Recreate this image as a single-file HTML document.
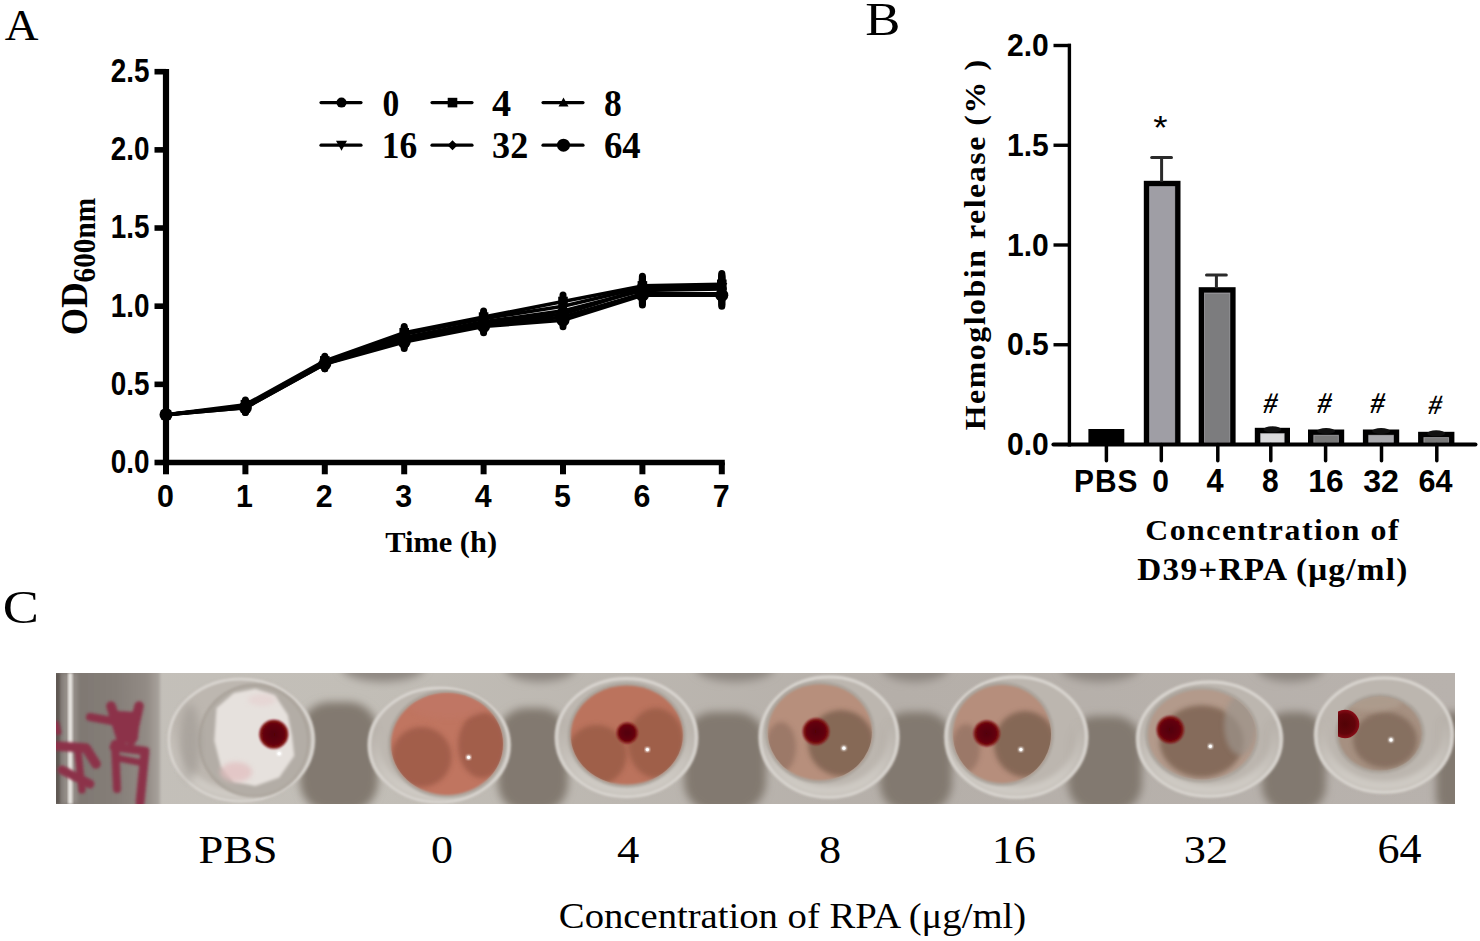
<!DOCTYPE html><html><head><meta charset="utf-8"><style>html,body{margin:0;padding:0;background:#fff;overflow:hidden}svg{display:block}</style></head><body>
<svg width="1480" height="941" viewBox="0 0 1480 941">
<rect width="1480" height="941" fill="#fff"/>
<line x1="166.0" y1="68.9" x2="166.0" y2="465.3" stroke="#000" stroke-width="6.2"/>
<line x1="163" y1="462.5" x2="724.8" y2="462.5" stroke="#000" stroke-width="5.6"/>
<line x1="154.5" y1="462.50" x2="166.0" y2="462.50" stroke="#000" stroke-width="5.6"/>
<line x1="154.5" y1="384.34" x2="166.0" y2="384.34" stroke="#000" stroke-width="5.6"/>
<line x1="154.5" y1="306.18" x2="166.0" y2="306.18" stroke="#000" stroke-width="5.6"/>
<line x1="154.5" y1="228.02" x2="166.0" y2="228.02" stroke="#000" stroke-width="5.6"/>
<line x1="154.5" y1="149.86" x2="166.0" y2="149.86" stroke="#000" stroke-width="5.6"/>
<line x1="154.5" y1="71.70" x2="166.0" y2="71.70" stroke="#000" stroke-width="5.6"/>
<line x1="166.00" y1="462.5" x2="166.00" y2="474.3" stroke="#000" stroke-width="6"/>
<line x1="245.40" y1="462.5" x2="245.40" y2="474.3" stroke="#000" stroke-width="6"/>
<line x1="324.80" y1="462.5" x2="324.80" y2="474.3" stroke="#000" stroke-width="6"/>
<line x1="404.20" y1="462.5" x2="404.20" y2="474.3" stroke="#000" stroke-width="6"/>
<line x1="483.60" y1="462.5" x2="483.60" y2="474.3" stroke="#000" stroke-width="6"/>
<line x1="563.00" y1="462.5" x2="563.00" y2="474.3" stroke="#000" stroke-width="6"/>
<line x1="642.40" y1="462.5" x2="642.40" y2="474.3" stroke="#000" stroke-width="6"/>
<line x1="721.80" y1="462.5" x2="721.80" y2="474.3" stroke="#000" stroke-width="6"/>
<polyline points="166.0,414.7 245.4,406.2 324.8,362.5 404.2,337.4 483.6,321.8 563.0,310.9 642.4,290.5 721.8,289.0" fill="none" stroke="#000" stroke-width="3.6" stroke-linejoin="round"/>
<polyline points="166.0,414.7 245.4,404.7 324.8,360.9 404.2,332.8 483.6,317.1 563.0,301.5 642.4,285.9 721.8,284.3" fill="none" stroke="#000" stroke-width="3.6" stroke-linejoin="round"/>
<polyline points="166.0,414.7 245.4,406.2 324.8,362.5 404.2,334.3 483.6,318.7 563.0,306.2 642.4,287.4 721.8,285.9" fill="none" stroke="#000" stroke-width="3.6" stroke-linejoin="round"/>
<polyline points="166.0,414.7 245.4,407.8 324.8,364.0 404.2,339.0 483.6,323.4 563.0,314.0 642.4,289.0 721.8,287.4" fill="none" stroke="#000" stroke-width="3.6" stroke-linejoin="round"/>
<polyline points="166.0,414.7 245.4,406.2 324.8,362.5 404.2,340.6 483.6,324.9 563.0,317.1 642.4,293.7 721.8,293.7" fill="none" stroke="#000" stroke-width="3.6" stroke-linejoin="round"/>
<polyline points="166.0,414.7 245.4,407.8 324.8,364.0 404.2,342.1 483.6,326.5 563.0,320.2 642.4,295.2 721.8,295.2" fill="none" stroke="#000" stroke-width="3.6" stroke-linejoin="round"/>
<line x1="166.0" y1="411.5" x2="166.0" y2="417.8" stroke="#000" stroke-width="7" stroke-linecap="round"/>
<circle cx="166.0" cy="414.7" r="5.0" fill="#000"/>
<line x1="245.4" y1="401.5" x2="245.4" y2="410.9" stroke="#000" stroke-width="7" stroke-linecap="round"/>
<circle cx="245.4" cy="406.2" r="5.0" fill="#000"/>
<line x1="324.8" y1="357.8" x2="324.8" y2="367.1" stroke="#000" stroke-width="7" stroke-linecap="round"/>
<circle cx="324.8" cy="362.5" r="5.0" fill="#000"/>
<line x1="404.2" y1="331.2" x2="404.2" y2="343.7" stroke="#000" stroke-width="7" stroke-linecap="round"/>
<circle cx="404.2" cy="337.4" r="5.0" fill="#000"/>
<line x1="483.6" y1="315.6" x2="483.6" y2="328.1" stroke="#000" stroke-width="7" stroke-linecap="round"/>
<circle cx="483.6" cy="321.8" r="5.0" fill="#000"/>
<line x1="563.0" y1="304.3" x2="563.0" y2="317.4" stroke="#000" stroke-width="7" stroke-linecap="round"/>
<circle cx="563.0" cy="310.9" r="5.0" fill="#000"/>
<line x1="642.4" y1="280.9" x2="642.4" y2="300.2" stroke="#000" stroke-width="7" stroke-linecap="round"/>
<circle cx="642.4" cy="290.5" r="5.0" fill="#000"/>
<line x1="721.8" y1="278.0" x2="721.8" y2="299.9" stroke="#000" stroke-width="7" stroke-linecap="round"/>
<circle cx="721.8" cy="289.0" r="5.0" fill="#000"/>
<line x1="166.0" y1="411.5" x2="166.0" y2="417.8" stroke="#000" stroke-width="7" stroke-linecap="round"/>
<rect x="161.2" y="409.9" width="9.6" height="9.6" fill="#000"/>
<line x1="245.4" y1="400.0" x2="245.4" y2="409.4" stroke="#000" stroke-width="7" stroke-linecap="round"/>
<rect x="240.6" y="399.9" width="9.6" height="9.6" fill="#000"/>
<line x1="324.8" y1="356.2" x2="324.8" y2="365.6" stroke="#000" stroke-width="7" stroke-linecap="round"/>
<rect x="320.0" y="356.1" width="9.6" height="9.6" fill="#000"/>
<line x1="404.2" y1="326.5" x2="404.2" y2="339.0" stroke="#000" stroke-width="7" stroke-linecap="round"/>
<rect x="399.4" y="328.0" width="9.6" height="9.6" fill="#000"/>
<line x1="483.6" y1="310.9" x2="483.6" y2="323.4" stroke="#000" stroke-width="7" stroke-linecap="round"/>
<rect x="478.8" y="312.3" width="9.6" height="9.6" fill="#000"/>
<line x1="563.0" y1="294.9" x2="563.0" y2="308.1" stroke="#000" stroke-width="7" stroke-linecap="round"/>
<rect x="558.2" y="296.7" width="9.6" height="9.6" fill="#000"/>
<line x1="642.4" y1="276.2" x2="642.4" y2="295.6" stroke="#000" stroke-width="7" stroke-linecap="round"/>
<rect x="637.6" y="281.1" width="9.6" height="9.6" fill="#000"/>
<line x1="721.8" y1="273.4" x2="721.8" y2="295.2" stroke="#000" stroke-width="7" stroke-linecap="round"/>
<rect x="717.0" y="279.5" width="9.6" height="9.6" fill="#000"/>
<line x1="166.0" y1="411.5" x2="166.0" y2="417.8" stroke="#000" stroke-width="7" stroke-linecap="round"/>
<path d="M166.0,409.7 L171.0,418.7 L161.0,418.7 Z" fill="#000"/>
<line x1="245.4" y1="401.5" x2="245.4" y2="410.9" stroke="#000" stroke-width="7" stroke-linecap="round"/>
<path d="M245.4,401.2 L250.4,410.2 L240.4,410.2 Z" fill="#000"/>
<line x1="324.8" y1="357.8" x2="324.8" y2="367.1" stroke="#000" stroke-width="7" stroke-linecap="round"/>
<path d="M324.8,357.5 L329.8,366.5 L319.8,366.5 Z" fill="#000"/>
<line x1="404.2" y1="328.1" x2="404.2" y2="340.6" stroke="#000" stroke-width="7" stroke-linecap="round"/>
<path d="M404.2,329.3 L409.2,338.3 L399.2,338.3 Z" fill="#000"/>
<line x1="483.6" y1="312.4" x2="483.6" y2="324.9" stroke="#000" stroke-width="7" stroke-linecap="round"/>
<path d="M483.6,313.7 L488.6,322.7 L478.6,322.7 Z" fill="#000"/>
<line x1="563.0" y1="299.6" x2="563.0" y2="312.7" stroke="#000" stroke-width="7" stroke-linecap="round"/>
<path d="M563.0,301.2 L568.0,310.2 L558.0,310.2 Z" fill="#000"/>
<line x1="642.4" y1="277.7" x2="642.4" y2="297.1" stroke="#000" stroke-width="7" stroke-linecap="round"/>
<path d="M642.4,282.4 L647.4,291.4 L637.4,291.4 Z" fill="#000"/>
<line x1="721.8" y1="274.9" x2="721.8" y2="296.8" stroke="#000" stroke-width="7" stroke-linecap="round"/>
<path d="M721.8,280.9 L726.8,289.9 L716.8,289.9 Z" fill="#000"/>
<line x1="166.0" y1="411.5" x2="166.0" y2="417.8" stroke="#000" stroke-width="7" stroke-linecap="round"/>
<path d="M160.5,410.3 L171.5,410.3 L166.0,420.2 Z" fill="#000"/>
<line x1="245.4" y1="403.1" x2="245.4" y2="412.5" stroke="#000" stroke-width="7" stroke-linecap="round"/>
<path d="M239.9,403.4 L250.9,403.4 L245.4,413.3 Z" fill="#000"/>
<line x1="324.8" y1="359.3" x2="324.8" y2="368.7" stroke="#000" stroke-width="7" stroke-linecap="round"/>
<path d="M319.3,359.6 L330.3,359.6 L324.8,369.5 Z" fill="#000"/>
<line x1="404.2" y1="332.8" x2="404.2" y2="345.3" stroke="#000" stroke-width="7" stroke-linecap="round"/>
<path d="M398.7,334.6 L409.7,334.6 L404.2,344.5 Z" fill="#000"/>
<line x1="483.6" y1="317.1" x2="483.6" y2="329.6" stroke="#000" stroke-width="7" stroke-linecap="round"/>
<path d="M478.1,319.0 L489.1,319.0 L483.6,328.9 Z" fill="#000"/>
<line x1="563.0" y1="307.4" x2="563.0" y2="320.6" stroke="#000" stroke-width="7" stroke-linecap="round"/>
<path d="M557.5,309.6 L568.5,309.6 L563.0,319.5 Z" fill="#000"/>
<line x1="642.4" y1="279.3" x2="642.4" y2="298.7" stroke="#000" stroke-width="7" stroke-linecap="round"/>
<path d="M636.9,284.6 L647.9,284.6 L642.4,294.5 Z" fill="#000"/>
<line x1="721.8" y1="276.5" x2="721.8" y2="298.4" stroke="#000" stroke-width="7" stroke-linecap="round"/>
<path d="M716.3,283.0 L727.3,283.0 L721.8,292.9 Z" fill="#000"/>
<line x1="166.0" y1="411.5" x2="166.0" y2="417.8" stroke="#000" stroke-width="7" stroke-linecap="round"/>
<path d="M166.0,409.7 L171.0,414.7 L166.0,419.7 L161.0,414.7 Z" fill="#000"/>
<line x1="245.4" y1="401.5" x2="245.4" y2="410.9" stroke="#000" stroke-width="7" stroke-linecap="round"/>
<path d="M245.4,401.2 L250.4,406.2 L245.4,411.2 L240.4,406.2 Z" fill="#000"/>
<line x1="324.8" y1="357.8" x2="324.8" y2="367.1" stroke="#000" stroke-width="7" stroke-linecap="round"/>
<path d="M324.8,357.5 L329.8,362.5 L324.8,367.5 L319.8,362.5 Z" fill="#000"/>
<line x1="404.2" y1="334.3" x2="404.2" y2="346.8" stroke="#000" stroke-width="7" stroke-linecap="round"/>
<path d="M404.2,335.6 L409.2,340.6 L404.2,345.6 L399.2,340.6 Z" fill="#000"/>
<line x1="483.6" y1="318.7" x2="483.6" y2="331.2" stroke="#000" stroke-width="7" stroke-linecap="round"/>
<path d="M483.6,319.9 L488.6,324.9 L483.6,329.9 L478.6,324.9 Z" fill="#000"/>
<line x1="563.0" y1="310.6" x2="563.0" y2="323.7" stroke="#000" stroke-width="7" stroke-linecap="round"/>
<path d="M563.0,312.1 L568.0,317.1 L563.0,322.1 L558.0,317.1 Z" fill="#000"/>
<line x1="642.4" y1="284.0" x2="642.4" y2="303.4" stroke="#000" stroke-width="7" stroke-linecap="round"/>
<path d="M642.4,288.7 L647.4,293.7 L642.4,298.7 L637.4,293.7 Z" fill="#000"/>
<line x1="721.8" y1="282.7" x2="721.8" y2="304.6" stroke="#000" stroke-width="7" stroke-linecap="round"/>
<path d="M721.8,288.7 L726.8,293.7 L721.8,298.7 L716.8,293.7 Z" fill="#000"/>
<line x1="166.0" y1="411.5" x2="166.0" y2="417.8" stroke="#000" stroke-width="7" stroke-linecap="round"/>
<circle cx="166.0" cy="414.7" r="6.5" fill="#000"/>
<line x1="245.4" y1="403.1" x2="245.4" y2="412.5" stroke="#000" stroke-width="7" stroke-linecap="round"/>
<circle cx="245.4" cy="407.8" r="6.5" fill="#000"/>
<line x1="324.8" y1="359.3" x2="324.8" y2="368.7" stroke="#000" stroke-width="7" stroke-linecap="round"/>
<circle cx="324.8" cy="364.0" r="6.5" fill="#000"/>
<line x1="404.2" y1="335.9" x2="404.2" y2="348.4" stroke="#000" stroke-width="7" stroke-linecap="round"/>
<circle cx="404.2" cy="342.1" r="6.5" fill="#000"/>
<line x1="483.6" y1="320.2" x2="483.6" y2="332.8" stroke="#000" stroke-width="7" stroke-linecap="round"/>
<circle cx="483.6" cy="326.5" r="6.5" fill="#000"/>
<line x1="563.0" y1="313.7" x2="563.0" y2="326.8" stroke="#000" stroke-width="7" stroke-linecap="round"/>
<circle cx="563.0" cy="320.2" r="6.5" fill="#000"/>
<line x1="642.4" y1="285.5" x2="642.4" y2="304.9" stroke="#000" stroke-width="7" stroke-linecap="round"/>
<circle cx="642.4" cy="295.2" r="6.5" fill="#000"/>
<line x1="721.8" y1="284.3" x2="721.8" y2="306.2" stroke="#000" stroke-width="7" stroke-linecap="round"/>
<circle cx="721.8" cy="295.2" r="6.5" fill="#000"/>
<line x1="321" y1="102.6" x2="361" y2="102.6" stroke="#000" stroke-width="3.2" stroke-linecap="round"/>
<circle cx="341.5" cy="102.6" r="5.0" fill="#000"/>
<line x1="432" y1="102.6" x2="472" y2="102.6" stroke="#000" stroke-width="3.2" stroke-linecap="round"/>
<rect x="447.7" y="97.8" width="9.6" height="9.6" fill="#000"/>
<line x1="543" y1="102.6" x2="583" y2="102.6" stroke="#000" stroke-width="3.2" stroke-linecap="round"/>
<path d="M563.5,97.6 L568.5,106.6 L558.5,106.6 Z" fill="#000"/>
<line x1="321" y1="145.2" x2="361" y2="145.2" stroke="#000" stroke-width="3.2" stroke-linecap="round"/>
<path d="M336.0,140.8 L347.0,140.8 L341.5,150.7 Z" fill="#000"/>
<line x1="432" y1="145.2" x2="472" y2="145.2" stroke="#000" stroke-width="3.2" stroke-linecap="round"/>
<path d="M452.5,140.2 L457.5,145.2 L452.5,150.2 L447.5,145.2 Z" fill="#000"/>
<line x1="543" y1="145.2" x2="583" y2="145.2" stroke="#000" stroke-width="3.2" stroke-linecap="round"/>
<circle cx="563.5" cy="145.2" r="6.5" fill="#000"/>
<line x1="1069.4" y1="43.8" x2="1069.4" y2="446.5" stroke="#000" stroke-width="3.4"/>
<line x1="1053.5" y1="344.75" x2="1071" y2="344.75" stroke="#000" stroke-width="3.4"/>
<line x1="1053.5" y1="245.00" x2="1071" y2="245.00" stroke="#000" stroke-width="3.4"/>
<line x1="1053.5" y1="145.25" x2="1071" y2="145.25" stroke="#000" stroke-width="3.4"/>
<line x1="1053.5" y1="45.50" x2="1071" y2="45.50" stroke="#000" stroke-width="3.4"/>
<rect x="1088.4" y="429.0" width="35.9" height="15.5" fill="#000"/>
<rect x="1143.8" y="180.8" width="36.7" height="263.7" fill="#000"/>
<rect x="1149.6" y="186.6" width="25.1" height="256.4" fill="#9f9ea5" stroke="#c4c3c8" stroke-opacity="0.6" stroke-width="1"/>
<rect x="1198.7" y="287.2" width="36.9" height="157.3" fill="#000"/>
<rect x="1204.5" y="293.0" width="25.3" height="150.0" fill="#7c7c7e" stroke="#c4c3c8" stroke-opacity="0.6" stroke-width="1"/>
<rect x="1254.8" y="427.8" width="35.2" height="16.7" fill="#000"/>
<rect x="1260.6" y="433.6" width="23.6" height="9.4" fill="#d9d9db" stroke="#c4c3c8" stroke-opacity="0.6" stroke-width="1"/>
<rect x="1308.0" y="429.5" width="36.2" height="15.0" fill="#000"/>
<rect x="1313.8" y="435.3" width="24.6" height="7.7" fill="#787878" stroke="#c4c3c8" stroke-opacity="0.6" stroke-width="1"/>
<rect x="1362.9" y="429.5" width="36.3" height="15.0" fill="#000"/>
<rect x="1368.7" y="435.3" width="24.7" height="7.7" fill="#a9a9ad" stroke="#c4c3c8" stroke-opacity="0.6" stroke-width="1"/>
<rect x="1418.1" y="431.8" width="36.3" height="12.7" fill="#000"/>
<rect x="1423.9" y="437.6" width="24.7" height="5.4" fill="#787878" stroke="#c4c3c8" stroke-opacity="0.6" stroke-width="1"/>
<line x1="1106.4" y1="444.5" x2="1106.4" y2="460.8" stroke="#000" stroke-width="3.5" stroke-linecap="round"/>
<line x1="1161.3" y1="444.5" x2="1161.3" y2="460.8" stroke="#000" stroke-width="3.5" stroke-linecap="round"/>
<line x1="1217.8" y1="444.5" x2="1217.8" y2="460.8" stroke="#000" stroke-width="3.5" stroke-linecap="round"/>
<line x1="1270.8" y1="444.5" x2="1270.8" y2="460.8" stroke="#000" stroke-width="3.5" stroke-linecap="round"/>
<line x1="1325.6" y1="444.5" x2="1325.6" y2="460.8" stroke="#000" stroke-width="3.5" stroke-linecap="round"/>
<line x1="1381.5" y1="444.5" x2="1381.5" y2="460.8" stroke="#000" stroke-width="3.5" stroke-linecap="round"/>
<line x1="1436.8" y1="444.5" x2="1436.8" y2="460.8" stroke="#000" stroke-width="3.5" stroke-linecap="round"/>
<line x1="1053.5" y1="444.5" x2="1475.4" y2="444.5" stroke="#000" stroke-width="4.2" stroke-linecap="round"/>
<ellipse cx="1272.4" cy="429.3" rx="9" ry="3" fill="#111"/>
<ellipse cx="1326.1" cy="431.0" rx="9" ry="3" fill="#111"/>
<ellipse cx="1381.1" cy="431.0" rx="9" ry="3" fill="#111"/>
<ellipse cx="1436.2" cy="433.3" rx="9" ry="3" fill="#111"/>
<line x1="1161.6" y1="157.4" x2="1161.6" y2="181.8" stroke="#2a2a2a" stroke-width="3"/>
<line x1="1151.6999999999998" y1="157.4" x2="1171.5" y2="157.4" stroke="#2a2a2a" stroke-width="3" stroke-linecap="round"/>
<line x1="1216.4" y1="274.9" x2="1216.4" y2="288.2" stroke="#2a2a2a" stroke-width="3"/>
<line x1="1206.5" y1="274.9" x2="1226.3000000000002" y2="274.9" stroke="#2a2a2a" stroke-width="3" stroke-linecap="round"/>
<defs>
<clipPath id="strip"><rect x="56" y="673" width="1399" height="131"/></clipPath>
<filter id="b1" x="-20%" y="-20%" width="140%" height="140%"><feGaussianBlur stdDeviation="1"/></filter>
<filter id="b15" x="-20%" y="-20%" width="140%" height="140%"><feGaussianBlur stdDeviation="1.6"/></filter>
<filter id="b2" x="-30%" y="-30%" width="160%" height="160%"><feGaussianBlur stdDeviation="2.5"/></filter>
<filter id="b4" x="-30%" y="-30%" width="160%" height="160%"><feGaussianBlur stdDeviation="4"/></filter>
<filter id="b7" x="-40%" y="-40%" width="180%" height="180%"><feGaussianBlur stdDeviation="7"/></filter>
<linearGradient id="leftg" x1="0" x2="1" y1="0" y2="0">
<stop offset="0" stop-color="#7a736d"/><stop offset="0.6" stop-color="#857e78"/><stop offset="0.88" stop-color="#928b85"/><stop offset="1" stop-color="#aaa49e"/></linearGradient>
<linearGradient id="plateg" x1="0" x2="1" y1="0" y2="0">
<stop offset="0" stop-color="#c4c0ba"/><stop offset="0.22" stop-color="#c2beb7"/><stop offset="0.6" stop-color="#b5afa9"/><stop offset="1" stop-color="#b8b2ad"/></linearGradient>
<linearGradient id="ringg" x1="0" y1="0" x2="0" y2="1"><stop offset="0.35" stop-color="#d4d0ca" stop-opacity="0"/><stop offset="0.9" stop-color="#d4d0ca" stop-opacity="0.75"/></linearGradient>
<radialGradient id="dotg"><stop offset="0" stop-color="#520306"/><stop offset="0.7" stop-color="#62040a"/><stop offset="1" stop-color="#8a0c16"/></radialGradient>
</defs>
<g clip-path="url(#strip)">
<rect x="56" y="673" width="1399" height="131" fill="url(#plateg)"/>
<ellipse cx="383" cy="667" rx="42" ry="15" fill="#8f8882" filter="url(#b4)"/>
<ellipse cx="540" cy="667" rx="36" ry="15" fill="#8f8882" filter="url(#b4)"/>
<ellipse cx="735" cy="667" rx="40" ry="15" fill="#8f8882" filter="url(#b4)"/>
<ellipse cx="915" cy="667" rx="34" ry="15" fill="#8f8882" filter="url(#b4)"/>
<ellipse cx="1100" cy="667" rx="40" ry="15" fill="#8f8882" filter="url(#b4)"/>
<ellipse cx="1290" cy="667" rx="34" ry="15" fill="#8f8882" filter="url(#b4)"/>
<rect x="300" y="702" width="78" height="110" rx="30" fill="#82796f" filter="url(#b4)"/>
<rect x="498" y="708" width="70" height="104" rx="28" fill="#82796f" filter="url(#b4)"/>
<rect x="684" y="712" width="82" height="100" rx="30" fill="#82796f" filter="url(#b4)"/>
<rect x="880" y="712" width="72" height="100" rx="28" fill="#82796f" filter="url(#b4)"/>
<rect x="1068" y="716" width="74" height="96" rx="28" fill="#82796f" filter="url(#b4)"/>
<rect x="1262" y="712" width="64" height="100" rx="26" fill="#82796f" filter="url(#b4)"/>
<rect x="1436" y="712" width="34" height="100" rx="14" fill="#82796f" filter="url(#b4)"/>
<rect x="50" y="668" width="110" height="145" fill="url(#leftg)" filter="url(#b15)"/>
<rect x="50" y="673" width="10" height="131" fill="#5e5853" filter="url(#b1)"/>
<rect x="63" y="673" width="14" height="131" fill="#a8a29d" opacity="0.6" filter="url(#b2)"/>
<rect x="68" y="673" width="4.5" height="131" fill="#e6e3df" filter="url(#b1)"/>
<g fill="none" stroke="#8c3048" stroke-linecap="round" stroke-linejoin="round" filter="url(#b15)"><path d="M90,717 L112,721" stroke-width="8.0"/><path d="M111,706 L122,741" stroke-width="9.6"/><path d="M139,706 L131,741" stroke-width="9.6"/><path d="M118,715 L136,716 L134,738 L120,738 Z" stroke-width="8" fill="#8c3048"/><path d="M115,744 L117,789" stroke-width="8.0"/><path d="M114,747 L145,751 L140,803" stroke-width="8.8"/><path d="M117,758 L143,763" stroke-width="6.4"/><path d="M56,724 L58,732" stroke-width="6.4"/><path d="M56,746 L86,748 L96,764" stroke-width="9.6"/><path d="M62,770 L90,784" stroke-width="8.8"/><path d="M78,752 L82,790" stroke-width="7.2"/></g>
<ellipse cx="240.9" cy="740" rx="74" ry="63" fill="#bdb7b0" opacity="0.92" filter="url(#b15)"/>
<ellipse cx="240.9" cy="740" rx="72" ry="61" fill="none" stroke="#d9d5d0" stroke-width="3" filter="url(#b1)"/>
<ellipse cx="240.9" cy="740" rx="66" ry="55" fill="none" stroke="url(#ringg)" stroke-width="10" filter="url(#b2)"/>
<ellipse cx="254" cy="740.6" rx="56" ry="57" fill="#a8a199" opacity="0.8" filter="url(#b1)"/>
<ellipse cx="254" cy="740.6" rx="53" ry="54" fill="#b3ada6" filter="url(#b1)"/>
<clipPath id="lc0"><ellipse cx="254" cy="740.6" rx="53" ry="54"/></clipPath>
<g clip-path="url(#lc0)">
</g>
<polygon points="216.5,708 233.8,693 255.4,688.8 274.9,695.3 287.8,714.7 292,736 294.3,755.8 279.2,777.4 255.4,786 233.8,781.8 220.8,766.6 214.3,740.7" fill="#e6e1dd" filter="url(#b15)"/>
<ellipse cx="236" cy="772" rx="16" ry="10" fill="#e2bfc0" opacity="0.75" filter="url(#b2)"/>
<ellipse cx="262" cy="700" rx="14" ry="6" fill="#e6cfcf" opacity="0.6" filter="url(#b2)"/>
<ellipse cx="190" cy="742" rx="10" ry="38" fill="#9e9892" opacity="0.6" filter="url(#b4)"/>
<circle cx="273.8" cy="734.2" r="14.5" fill="url(#dotg)" filter="url(#b1)"/>
<circle cx="279.2" cy="753.6" r="2.4" fill="#ffffff" filter="url(#b1)"/>
<circle cx="279.2" cy="753.6" r="1.6" fill="#ffffff"/>
<ellipse cx="439.2" cy="745" rx="71.5" ry="59" fill="#bdb7b0" opacity="0.92" filter="url(#b15)"/>
<ellipse cx="439.2" cy="745" rx="69.5" ry="57" fill="none" stroke="#d9d5d0" stroke-width="3" filter="url(#b1)"/>
<ellipse cx="439.2" cy="745" rx="63.5" ry="51" fill="none" stroke="url(#ringg)" stroke-width="10" filter="url(#b2)"/>
<ellipse cx="447" cy="744" rx="59" ry="54" fill="#a8a199" opacity="0.8" filter="url(#b1)"/>
<ellipse cx="447" cy="744" rx="56" ry="51" fill="#c07560" filter="url(#b1)"/>
<clipPath id="lc1"><ellipse cx="447" cy="744" rx="56" ry="51"/></clipPath>
<g clip-path="url(#lc1)">
<ellipse cx="421.5" cy="757" rx="30" ry="30" fill="#8e503d" opacity="0.6" filter="url(#b2)"/>
<ellipse cx="482" cy="745" rx="24" ry="33" fill="#8e503d" opacity="0.6" filter="url(#b2)"/>
<ellipse cx="449" cy="705" rx="40" ry="14" fill="#c07868" opacity="0.5" filter="url(#b2)"/>
</g>
<circle cx="468.6" cy="757.3" r="2.4" fill="#ffffff" filter="url(#b1)"/>
<circle cx="468.6" cy="757.3" r="1.6" fill="#ffffff"/>
<ellipse cx="626.5" cy="737.4" rx="71.7" ry="61" fill="#bdb7b0" opacity="0.92" filter="url(#b15)"/>
<ellipse cx="626.5" cy="737.4" rx="69.7" ry="59" fill="none" stroke="#d9d5d0" stroke-width="3" filter="url(#b1)"/>
<ellipse cx="626.5" cy="737.4" rx="63.7" ry="53" fill="none" stroke="url(#ringg)" stroke-width="10" filter="url(#b2)"/>
<ellipse cx="626.8" cy="735" rx="59" ry="52.5" fill="#a8a199" opacity="0.8" filter="url(#b1)"/>
<ellipse cx="626.8" cy="735" rx="56" ry="49.5" fill="#bb735d" filter="url(#b1)"/>
<clipPath id="lc2"><ellipse cx="626.8" cy="735" rx="56" ry="49.5"/></clipPath>
<g clip-path="url(#lc2)">
<ellipse cx="596.5" cy="755" rx="30" ry="30" fill="#8c523e" opacity="0.6" filter="url(#b2)"/>
<ellipse cx="656" cy="743" rx="28" ry="35" fill="#8c523e" opacity="0.6" filter="url(#b2)"/>
</g>
<circle cx="627.2" cy="732.9" r="10.5" fill="url(#dotg)" filter="url(#b1)"/>
<circle cx="647.4" cy="749.6" r="2.4" fill="#ffffff" filter="url(#b1)"/>
<circle cx="647.4" cy="749.6" r="1.6" fill="#ffffff"/>
<ellipse cx="829" cy="737" rx="70.4" ry="62" fill="#bdb7b0" opacity="0.92" filter="url(#b15)"/>
<ellipse cx="829" cy="737" rx="68.4" ry="60" fill="none" stroke="#d9d5d0" stroke-width="3" filter="url(#b1)"/>
<ellipse cx="829" cy="737" rx="62.400000000000006" ry="54" fill="none" stroke="url(#ringg)" stroke-width="10" filter="url(#b2)"/>
<ellipse cx="819.9" cy="732.2" rx="55" ry="51" fill="#a8a199" opacity="0.8" filter="url(#b1)"/>
<ellipse cx="819.9" cy="732.2" rx="52" ry="48" fill="#b78f7c" filter="url(#b1)"/>
<clipPath id="lc3"><ellipse cx="819.9" cy="732.2" rx="52" ry="48"/></clipPath>
<g clip-path="url(#lc3)">
<ellipse cx="841" cy="743" rx="33" ry="33" fill="#7a5e4d" opacity="0.8" filter="url(#b2)"/>
<ellipse cx="781" cy="747" rx="15" ry="25" fill="#917060" opacity="0.7" filter="url(#b2)"/>
</g>
<circle cx="816" cy="731.5" r="13.2" fill="url(#dotg)" filter="url(#b1)"/>
<circle cx="843.9" cy="748.2" r="2.4" fill="#ffffff" filter="url(#b1)"/>
<circle cx="843.9" cy="748.2" r="1.6" fill="#ffffff"/>
<ellipse cx="1016.3" cy="737" rx="72" ry="62" fill="#bdb7b0" opacity="0.92" filter="url(#b15)"/>
<ellipse cx="1016.3" cy="737" rx="70" ry="60" fill="none" stroke="#d9d5d0" stroke-width="3" filter="url(#b1)"/>
<ellipse cx="1016.3" cy="737" rx="64" ry="54" fill="none" stroke="url(#ringg)" stroke-width="10" filter="url(#b2)"/>
<ellipse cx="1002" cy="734" rx="52" ry="52" fill="#a8a199" opacity="0.8" filter="url(#b1)"/>
<ellipse cx="1002" cy="734" rx="49" ry="49" fill="#b68e7b" filter="url(#b1)"/>
<clipPath id="lc4"><ellipse cx="1002" cy="734" rx="49" ry="49"/></clipPath>
<g clip-path="url(#lc4)">
<ellipse cx="1025" cy="744" rx="31" ry="33" fill="#7a5e4d" opacity="0.8" filter="url(#b2)"/>
<ellipse cx="966" cy="748" rx="14" ry="24" fill="#917060" opacity="0.7" filter="url(#b2)"/>
</g>
<circle cx="986.7" cy="733.4" r="13" fill="url(#dotg)" filter="url(#b1)"/>
<circle cx="1020.9" cy="749.6" r="2.4" fill="#ffffff" filter="url(#b1)"/>
<circle cx="1020.9" cy="749.6" r="1.6" fill="#ffffff"/>
<ellipse cx="1209.5" cy="739" rx="73.5" ry="59" fill="#bdb7b0" opacity="0.92" filter="url(#b15)"/>
<ellipse cx="1209.5" cy="739" rx="71.5" ry="57" fill="none" stroke="#d9d5d0" stroke-width="3" filter="url(#b1)"/>
<ellipse cx="1209.5" cy="739" rx="65.5" ry="51" fill="none" stroke="url(#ringg)" stroke-width="10" filter="url(#b2)"/>
<ellipse cx="1202" cy="734.5" rx="57" ry="48" fill="#a8a199" opacity="0.8" filter="url(#b1)"/>
<ellipse cx="1202" cy="734.5" rx="54" ry="45" fill="#b39a8b" filter="url(#b1)"/>
<clipPath id="lc5"><ellipse cx="1202" cy="734.5" rx="54" ry="45"/></clipPath>
<g clip-path="url(#lc5)">
<ellipse cx="1201.6" cy="741.3" rx="42" ry="36" fill="#7a6150" opacity="0.8" filter="url(#b2)"/>
<ellipse cx="1240" cy="725" rx="16" ry="30" fill="#9d948c" opacity="0.7" filter="url(#b2)"/>
</g>
<circle cx="1170.3" cy="729.7" r="13.6" fill="url(#dotg)" filter="url(#b1)"/>
<circle cx="1210.4" cy="746.3" r="2.4" fill="#ffffff" filter="url(#b1)"/>
<circle cx="1210.4" cy="746.3" r="1.6" fill="#ffffff"/>
<ellipse cx="1384" cy="735" rx="70" ry="59" fill="#bdb7b0" opacity="0.92" filter="url(#b15)"/>
<ellipse cx="1384" cy="735" rx="68" ry="57" fill="none" stroke="#d9d5d0" stroke-width="3" filter="url(#b1)"/>
<ellipse cx="1384" cy="735" rx="62" ry="51" fill="none" stroke="url(#ringg)" stroke-width="10" filter="url(#b2)"/>
<ellipse cx="1380" cy="733.6" rx="45" ry="40" fill="#a8a199" opacity="0.8" filter="url(#b1)"/>
<ellipse cx="1380" cy="733.6" rx="42" ry="37" fill="#a69081" filter="url(#b1)"/>
<clipPath id="lc6"><ellipse cx="1380" cy="733.6" rx="42" ry="37"/></clipPath>
<g clip-path="url(#lc6)">
<ellipse cx="1385" cy="740" rx="32" ry="28" fill="#7f6858" opacity="0.8" filter="url(#b2)"/>
<ellipse cx="1372" cy="702" rx="30" ry="9" fill="#b0a092" opacity="0.7" filter="url(#b2)"/>
</g>
<clipPath id="dc6"><rect x="1338" y="690" width="60" height="60"/></clipPath>
<circle cx="1345" cy="724" r="14.3" fill="url(#dotg)" clip-path="url(#dc6)"/>
<circle cx="1391" cy="739.9" r="2.4" fill="#ffffff" filter="url(#b1)"/>
<circle cx="1391" cy="739.9" r="1.6" fill="#ffffff"/>
</g>
<g transform="translate(4.80,10.50) scale(1.0152,0.9677) translate(0,31)"><text x="0" y="0" font-family='"Liberation Serif", serif' font-size="46" >A</text></g>
<g transform="translate(866.30,3.50) scale(1.1444,1.0097) translate(-1,31)"><text x="0" y="0" font-family='"Liberation Serif", serif' font-size="46" >B</text></g>
<g transform="translate(5.10,592.60) scale(1.1769,0.9871) translate(-2,31)"><text x="0" y="0" font-family='"Liberation Serif", serif' font-size="46" >C</text></g>
<g transform="translate(386.20,531.80) scale(0.9821,0.9393) translate(-1,22)"><text x="0" y="0" font-family='"Liberation Serif", serif' font-size="31" font-weight="bold" >Time (h)</text></g>
<g transform="translate(62.40,198.50) scale(1.0290,0.9761) translate(24,140)"><text x="0" y="0" transform="rotate(-90)" font-family='"Liberation Serif", serif' font-size="36" font-weight="bold">OD<tspan font-size="30" dy="7.3">600nm</tspan></text></g>
<g transform="translate(383.50,90.90) scale(0.9312,1.0292) translate(-1,24)"><text x="0" y="0" font-family='"Liberation Serif", serif' font-size="36" font-weight="bold" >0</text></g>
<g transform="translate(493.10,90.90) scale(1.0625,1.0417) translate(-1,24)"><text x="0" y="0" font-family='"Liberation Serif", serif' font-size="36" font-weight="bold" >4</text></g>
<g transform="translate(605.00,90.90) scale(0.9875,1.0417) translate(-1,24)"><text x="0" y="0" font-family='"Liberation Serif", serif' font-size="36" font-weight="bold" >8</text></g>
<g transform="translate(384.70,133.40) scale(0.9844,1.0292) translate(-3,24)"><text x="0" y="0" font-family='"Liberation Serif", serif' font-size="36" font-weight="bold" >16</text></g>
<g transform="translate(493.10,133.40) scale(1.0029,1.0292) translate(-1,24)"><text x="0" y="0" font-family='"Liberation Serif", serif' font-size="36" font-weight="bold" >32</text></g>
<g transform="translate(605.00,133.40) scale(1.0206,1.0292) translate(-1,24)"><text x="0" y="0" font-family='"Liberation Serif", serif' font-size="36" font-weight="bold" >64</text></g>
<g transform="translate(1154.40,116.50) scale(1.2300,1.1100) translate(-1,20)"><text x="0" y="0" font-family='"Liberation Sans", sans-serif' font-size="30" >*</text></g>
<g transform="translate(1263.90,393.80) scale(0.9857,1.0611) translate(-2,18)"><text x="0" y="0" font-family='"Liberation Serif", serif' font-size="28" font-weight="bold" transform="skewX(-12)">#</text></g>
<g transform="translate(1318.00,393.80) scale(0.9857,1.0778) translate(-2,18)"><text x="0" y="0" font-family='"Liberation Serif", serif' font-size="28" font-weight="bold" transform="skewX(-12)">#</text></g>
<g transform="translate(1371.00,393.80) scale(1.0000,1.0778) translate(-2,18)"><text x="0" y="0" font-family='"Liberation Serif", serif' font-size="28" font-weight="bold" transform="skewX(-12)">#</text></g>
<g transform="translate(1429.00,396.60) scale(0.9500,0.9944) translate(-2,18)"><text x="0" y="0" font-family='"Liberation Serif", serif' font-size="28" font-weight="bold" transform="skewX(-12)">#</text></g>
<g transform="translate(963.30,61.30) scale(0.9724,1.0279) translate(22,359)"><text x="0" y="0" transform="rotate(-90)" font-family='"Liberation Serif", serif' font-size="31" font-weight="bold" letter-spacing="1.5">Hemoglobin release (% )</text></g>
<g transform="translate(1147.20,519.60) scale(1.0252,0.9455) translate(-2,22)"><text x="0" y="0" font-family='"Liberation Serif", serif' font-size="31" font-weight="bold" letter-spacing="1.5">Concentration of</text></g>
<g transform="translate(1138.40,557.40) scale(1.0397,1.0138) translate(-1,22)"><text x="0" y="0" font-family='"Liberation Serif", serif' font-size="32" font-weight="bold" letter-spacing="1.2">D39+RPA (μg/ml)</text></g>
<g transform="translate(199.50,836.20) scale(1.0592,0.9500) translate(-1,28)"><text x="0" y="0" font-family='"Liberation Serif", serif' font-size="42" >PBS</text></g>
<g transform="translate(433.00,835.60) scale(1.0471,0.9714) translate(-2,28)"><text x="0" y="0" font-family='"Liberation Serif", serif' font-size="42" >0</text></g>
<g transform="translate(618.10,835.40) scale(1.0632,0.9750) translate(-1,28)"><text x="0" y="0" font-family='"Liberation Serif", serif' font-size="42" >4</text></g>
<g transform="translate(821.00,835.50) scale(1.0529,0.9750) translate(-2,28)"><text x="0" y="0" font-family='"Liberation Serif", serif' font-size="42" >8</text></g>
<g transform="translate(996.30,835.50) scale(1.0459,0.9750) translate(-4,28)"><text x="0" y="0" font-family='"Liberation Serif", serif' font-size="42" >16</text></g>
<g transform="translate(1185.90,835.50) scale(1.0553,0.9750) translate(-2,28)"><text x="0" y="0" font-family='"Liberation Serif", serif' font-size="42" >32</text></g>
<g transform="translate(1379.60,835.10) scale(1.0487,0.9964) translate(-2,28)"><text x="0" y="0" font-family='"Liberation Serif", serif' font-size="42" >64</text></g>
<g transform="translate(1076.00,469.50) scale(0.9651,1.0182) translate(-2,22)"><text x="0" y="0" font-family='"Liberation Sans", sans-serif' font-size="31" font-weight="bold" letter-spacing="1">PBS</text></g>
<g transform="translate(1153.30,469.50) scale(0.9667,1.0182) translate(-1,22)"><text x="0" y="0" font-family='"Liberation Sans", sans-serif' font-size="31" font-weight="bold" >0</text></g>
<g transform="translate(1206.50,468.80) scale(0.9941,1.0455) translate(0,22)"><text x="0" y="0" font-family='"Liberation Sans", sans-serif' font-size="31" font-weight="bold" >4</text></g>
<g transform="translate(1262.90,468.80) scale(0.9667,1.0545) translate(-1,22)"><text x="0" y="0" font-family='"Liberation Sans", sans-serif' font-size="31" font-weight="bold" >8</text></g>
<g transform="translate(1310.40,469.10) scale(1.0226,1.0364) translate(-2,22)"><text x="0" y="0" font-family='"Liberation Sans", sans-serif' font-size="31" font-weight="bold" >16</text></g>
<g transform="translate(1364.20,469.10) scale(1.0375,1.0364) translate(-1,22)"><text x="0" y="0" font-family='"Liberation Sans", sans-serif' font-size="31" font-weight="bold" >32</text></g>
<g transform="translate(1419.50,469.10) scale(0.9848,1.0364) translate(-1,22)"><text x="0" y="0" font-family='"Liberation Sans", sans-serif' font-size="31" font-weight="bold" >64</text></g>
<g transform="translate(561.00,903.20) scale(1.0747,0.9848) translate(-2,25)"><text x="0" y="0" font-family='"Liberation Serif", serif' font-size="36" >Concentration of RPA (μg/ml)</text></g>
<g transform="translate(111.55,449.85) scale(0.9000,1.0500) translate(-1,22)"><text x="0" y="0" font-family='"Liberation Sans", sans-serif' font-size="31" font-weight="bold" >0.0</text></g>
<g transform="translate(111.55,371.69) scale(0.9000,1.0500) translate(-1,22)"><text x="0" y="0" font-family='"Liberation Sans", sans-serif' font-size="31" font-weight="bold" >0.5</text></g>
<g transform="translate(112.45,293.53) scale(0.9000,1.0500) translate(-2,22)"><text x="0" y="0" font-family='"Liberation Sans", sans-serif' font-size="31" font-weight="bold" >1.0</text></g>
<g transform="translate(112.45,215.37) scale(0.9000,1.0500) translate(-2,22)"><text x="0" y="0" font-family='"Liberation Sans", sans-serif' font-size="31" font-weight="bold" >1.5</text></g>
<g transform="translate(111.55,137.21) scale(0.9000,1.0500) translate(-1,22)"><text x="0" y="0" font-family='"Liberation Sans", sans-serif' font-size="31" font-weight="bold" >2.0</text></g>
<g transform="translate(111.55,59.05) scale(0.9000,1.0500) translate(-1,22)"><text x="0" y="0" font-family='"Liberation Sans", sans-serif' font-size="31" font-weight="bold" >2.5</text></g>
<g transform="translate(158.05,484.70) scale(0.9800,1.0200) translate(-1,22)"><text x="0" y="0" font-family='"Liberation Sans", sans-serif' font-size="31" font-weight="bold" >0</text></g>
<g transform="translate(237.94,484.70) scale(0.9800,1.0200) translate(-2,22)"><text x="0" y="0" font-family='"Liberation Sans", sans-serif' font-size="31" font-weight="bold" >1</text></g>
<g transform="translate(316.85,484.70) scale(0.9800,1.0200) translate(-1,22)"><text x="0" y="0" font-family='"Liberation Sans", sans-serif' font-size="31" font-weight="bold" >2</text></g>
<g transform="translate(396.25,484.70) scale(0.9800,1.0200) translate(-1,22)"><text x="0" y="0" font-family='"Liberation Sans", sans-serif' font-size="31" font-weight="bold" >3</text></g>
<g transform="translate(474.67,484.70) scale(0.9800,1.0200) translate(0,22)"><text x="0" y="0" font-family='"Liberation Sans", sans-serif' font-size="31" font-weight="bold" >4</text></g>
<g transform="translate(555.05,484.70) scale(0.9800,1.0200) translate(-1,22)"><text x="0" y="0" font-family='"Liberation Sans", sans-serif' font-size="31" font-weight="bold" >5</text></g>
<g transform="translate(634.45,484.70) scale(0.9800,1.0200) translate(-1,22)"><text x="0" y="0" font-family='"Liberation Sans", sans-serif' font-size="31" font-weight="bold" >6</text></g>
<g transform="translate(713.85,484.70) scale(0.9800,1.0200) translate(-1,22)"><text x="0" y="0" font-family='"Liberation Sans", sans-serif' font-size="31" font-weight="bold" >7</text></g>
<g transform="translate(1008.03,433.00) scale(0.9700,1.0000) translate(-1,22)"><text x="0" y="0" font-family='"Liberation Sans", sans-serif' font-size="31" font-weight="bold" >0.0</text></g>
<g transform="translate(1008.03,333.25) scale(0.9700,1.0000) translate(-1,22)"><text x="0" y="0" font-family='"Liberation Sans", sans-serif' font-size="31" font-weight="bold" >0.5</text></g>
<g transform="translate(1009.00,233.50) scale(0.9700,1.0000) translate(-2,22)"><text x="0" y="0" font-family='"Liberation Sans", sans-serif' font-size="31" font-weight="bold" >1.0</text></g>
<g transform="translate(1009.00,133.75) scale(0.9700,1.0000) translate(-2,22)"><text x="0" y="0" font-family='"Liberation Sans", sans-serif' font-size="31" font-weight="bold" >1.5</text></g>
<g transform="translate(1008.03,34.00) scale(0.9700,1.0000) translate(-1,22)"><text x="0" y="0" font-family='"Liberation Sans", sans-serif' font-size="31" font-weight="bold" >2.0</text></g>
</svg></body></html>
